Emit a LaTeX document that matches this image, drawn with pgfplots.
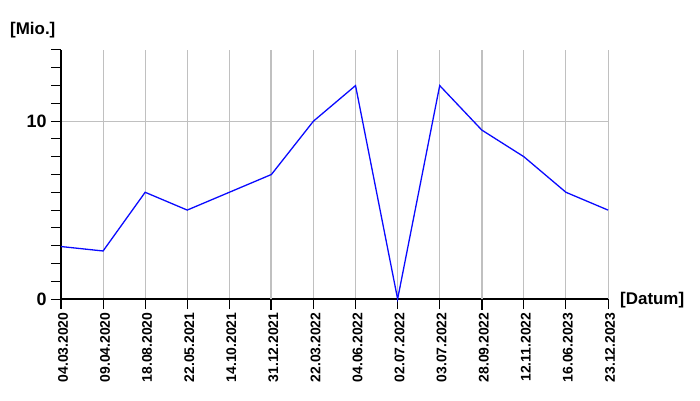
\documentclass[border=0pt]{standalone}
\usepackage{pgfplots}
\pgfplotsset{compat=1.18}
\usepackage{fontspec}
\setmainfont{Liberation Sans}
\definecolor{gridgray}{RGB}{192,192,192}
\definecolor{lineblue}{RGB}{10,10,255}
\begin{document}
\begin{tikzpicture}[x=1bp,y=1bp]
\path[use as bounding box] (0,0) rectangle (700,400);
\begin{axis}[
  at={(61bp,101bp)}, anchor=south west,
  scale only axis, width=547bp, height=249bp,
  xmin=0, xmax=13, ymin=0, ymax=14,
  axis x line*=bottom, axis y line*=left,
  axis line style={line width=1.8bp, black, -},
  xtick={0,...,13},
  xticklabels={04.03.2020,09.04.2020,18.08.2020,22.05.2021,14.10.2021,31.12.2021,22.03.2022,04.06.2022,02.07.2022,03.07.2022,28.09.2022,12.11.2022,16.06.2023,23.12.2023},
  xticklabel style={rotate=90, anchor=east, font=\fontsize{14}{14}\selectfont\bfseries, yshift=-2bp},
  ytick={0,10},
  minor ytick={1,...,14},
  yticklabel style={font=\fontsize{18}{18}\selectfont\bfseries, xshift=-1bp},
  /pgf/number format/assume math mode=true,
  tick align=outside,
  major tick length=10bp, minor tick length=10bp,
  x tick style={black, line width=1bp, shorten >=4bp},
  y tick style={black, line width=1bp},
  minor y tick style={black, line width=1bp},
  xmajorgrids, ymajorgrids,
  major grid style={draw=gridgray, line width=1bp},
  clip=false,
]
\draw[gridgray, line width=2bp] (axis cs:5,0) -- (axis cs:5,14);
\draw[gridgray, line width=2bp] (axis cs:10,0) -- (axis cs:10,14);
\draw[black, line width=2bp] (axis cs:5,0) -- ++(0,-11bp);
\draw[black, line width=2bp] (axis cs:10,0) -- ++(0,-11bp);
\draw[black, line width=1.8bp] (axis cs:0,0) -- ++(0,-10bp);
\draw[black, line width=1bp] (axis cs:13,0) -- ++(0,-10bp);
\addplot[lineblue, line width=1.3bp] coordinates {
(0,2.95) (1,2.7) (2,6) (3,5) (4,6) (5,7) (6,10) (7,12) (8,0) (9,12) (10,9.5) (11,8) (12,6) (13,5)
};
\end{axis}
\node[anchor=west, inner sep=0pt, font=\fontsize{17}{17}\selectfont\bfseries] at (10bp,370bp) {[Mio.]};
\node[anchor=west, inner sep=0pt, font=\fontsize{17}{17}\selectfont\bfseries] at (620bp,100bp) {[Datum]};
\end{tikzpicture}
\end{document}
